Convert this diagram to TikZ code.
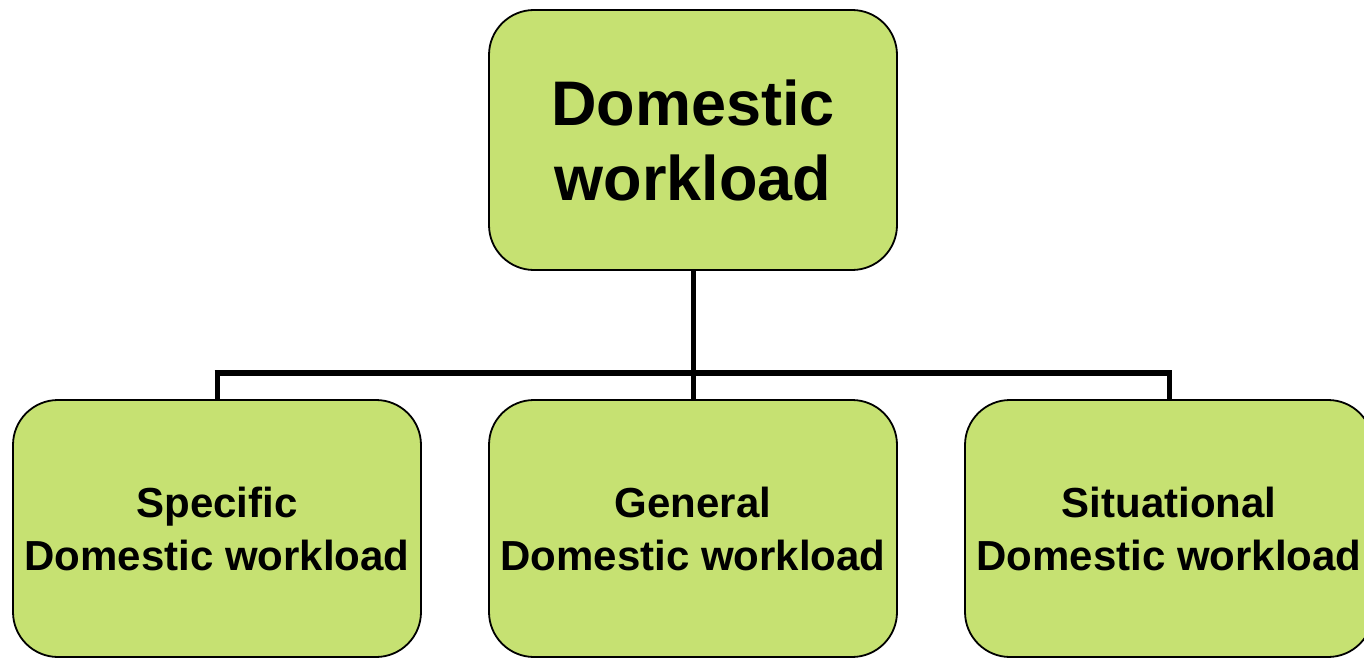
\documentclass[tikz,border=0pt]{standalone}
\usepackage{fontspec}
\setmainfont{Liberation Sans}
\usepackage{tikz}
\usetikzlibrary{calc,positioning}

\definecolor{boxgreen}{RGB}{198,225,114}

\begin{document}
\begin{tikzpicture}[x=1pt,y=-1pt,
		box/.style={draw,line width=1.8pt,fill=boxgreen,rounded corners=45pt,
			minimum width=408pt,align=center,font=\bfseries},
		conn/.style={line width=5pt},
		bar/.style={line width=6.5pt}]
	\useasboundingbox (0,0) rectangle (1364,658);
	\clip (0,0) rectangle (1364,658);
	% Knoten
		\node (root) at (693,140) [box,minimum height=260pt,font=\bfseries\fontsize{63}{75}\selectfont] {Domestic\\workload};
		\node (spec) at (217,528.5) [box,minimum height=257pt,font=\bfseries\fontsize{42}{53}\selectfont] {Specific\\Domestic workload};
		\node (gen) at (693,528.5) [box,minimum height=257pt,font=\bfseries\fontsize{42}{53}\selectfont] {General\\Domestic workload};
		\node (sit) at (1169,528.5) [box,minimum height=257pt,font=\bfseries\fontsize{42}{53}\selectfont] {Situational\\Domestic workload};
		\coordinate (bus) at (693,373);
	% Kanten
		\draw[conn] (root.south) -- (bus);
		\draw[bar] ($(bus -| spec)+(-2.5,0)$) -- ($(bus -| sit)+(2.5,0)$);
		\draw[conn] (bus -| spec) -- (spec.north);
		\draw[conn] (bus) -- (gen.north);
		\draw[conn] (bus -| sit) -- (sit.north);
\end{tikzpicture}
\end{document}
